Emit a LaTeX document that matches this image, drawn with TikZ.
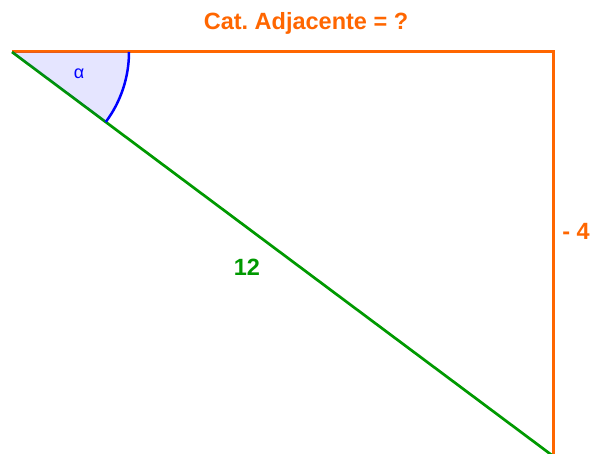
\documentclass[tikz,border=0pt]{standalone}
\usepackage{xcolor}
\usepackage{fontspec}
\setmainfont{Liberation Sans}
\usepackage{tikz}
\usetikzlibrary{calc}
\definecolor{geo@orange}{RGB}{255, 102, 0}
\definecolor{geo@green}{RGB}{0, 153, 0}
\definecolor{geo@blue}{RGB}{0, 0, 255}
\frenchspacing

\begin{document}
\begin{tikzpicture}[x=1pt, y=1pt,
  leg/.style   = {geo@orange, line width=3pt},
  hyp/.style   = {geo@green, line width=2.7pt},
  angarc/.style = {geo@blue, line width=2.5pt},
  angfill/.style = {fill=geo@blue, fill opacity=0.1},
  lbl/.style   = {font=\fontsize{23.5}{25}\selectfont\bfseries, inner sep=1pt},
]
  \useasboundingbox (0,0) rectangle (594,454);

  \coordinate (A) at (12,402);
  \coordinate (B) at (553,402);
  \coordinate (C) at (553,-2);

  \draw[leg] (A) -- (B) -- (C);
  \draw[hyp] (A) -- (C);

  \fill[angfill] (A) -- ++(0:117) arc[start angle=0, end angle=-36.75, radius=117] -- cycle;
  \draw[angarc] ($(A)+(0:117)$) arc[start angle=0, end angle=-36.75, radius=117];

  \node[lbl, text=geo@orange] (adj)   at (306,431) {Cat. Adjacente = ?};
  \node[lbl, text=geo@green]  (hlbl)  at (247,187) {12};
  \node[lbl, text=geo@orange] (opp)   at (576,223) {- 4};
  \node[font=\fontsize{18}{20}\selectfont, text=geo@blue] (alpha) at (79,380) {α};
\end{tikzpicture}
\end{document}
